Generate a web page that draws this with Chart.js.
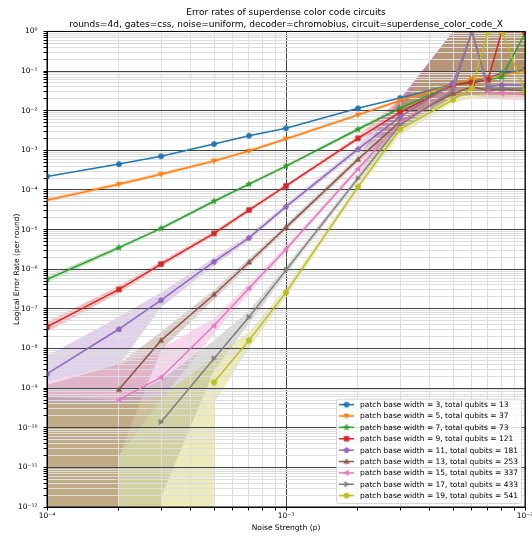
<!DOCTYPE html>
<html><head><meta charset="utf-8">
<script src="https://cdn.jsdelivr.net/npm/chart.js@4/dist/chart.umd.min.js"></script>
<style>html,body{margin:0;padding:0;background:#fff}#wrap{width:532px;height:539px}</style>
</head><body><div id="wrap"><canvas id="c" width="532" height="539"></canvas></div>
<script>
// ---------- data ----------
const noiseStrengths = [1e-4, 2e-4, 3e-4, 5e-4, 7e-4, 1e-3, 2e-3, 3e-3, 5e-3, 6e-3, 7e-3, 8e-3, 1e-2];
const patchBaseWidths = [3, 5, 7, 9, 11, 13, 15, 17, 19];
const totalQubits = [13, 37, 73, 121, 181, 253, 337, 433, 541];
const Z = 1e-300; // lower bound when no errors were seen

const rateW3 = [2.2e-4, 4.5e-4, 7.1e-4, 1.44e-3, 2.34e-3, 3.6e-3, 1.15e-2, 2.1e-2, 4.6e-2, 5.6e-2, 6.8e-2, 8.8e-2, 1.07e-1];
const lowW3  = [1.95e-4, 4.0e-4, 6.4e-4, 1.3e-3, 2.1e-3, 3.25e-3, 1.05e-2, 1.9e-2, 4.1e-2, 5.0e-2, 6.1e-2, 7.9e-2, 9.6e-2];
const highW3 = [2.5e-4, 5.1e-4, 7.9e-4, 1.6e-3, 2.6e-3, 4.0e-3, 1.27e-2, 2.3e-2, 5.1e-2, 6.2e-2, 7.5e-2, 9.8e-2, 1.19e-1];

const rateW5 = [5.5e-5, 1.4e-4, 2.5e-4, 5.4e-4, 9.6e-4, 1.94e-3, 7.8e-3, 1.8e-2, 4.5e-2, 6.3e-2, 6.6e-2, 8.0e-2, 1.0e-1];
const lowW5  = [4.8e-5, 1.25e-4, 2.25e-4, 4.9e-4, 8.7e-4, 1.76e-3, 7.1e-3, 1.63e-2, 4.0e-2, 5.6e-2, 5.9e-2, 7.1e-2, 8.9e-2];
const highW5 = [6.3e-5, 1.57e-4, 2.78e-4, 5.95e-4, 1.06e-3, 2.14e-3, 8.6e-3, 1.99e-2, 5.0e-2, 7.0e-2, 7.4e-2, 9.0e-2, 1.12e-1];

const rateW7 = [5.6e-7, 3.5e-6, 1.07e-5, 5.2e-5, 1.4e-4, 4.0e-4, 3.4e-3, 1.15e-2, 4.6e-2, 5.2e-2, 6.0e-2, 7.0e-2, 0.9];
const lowW7  = [4.7e-7, 3.1e-6, 9.6e-6, 4.7e-5, 1.27e-4, 3.6e-4, 3.05e-3, 1.0e-2, 3.8e-2, 4.2e-2, 4.8e-2, 5.5e-2, 0.1];
const highW7 = [6.6e-7, 3.9e-6, 1.19e-5, 5.8e-5, 1.55e-4, 4.4e-4, 3.8e-3, 1.3e-2, 5.6e-2, 6.4e-2, 7.5e-2, 1, 1];

const rateW9 = [3.5e-8, 3.1e-7, 1.35e-6, 8.0e-6, 3.1e-5, 1.26e-4, 2.0e-3, 9.1e-3, 4.5e-2, 5.0e-2, 6.0e-2, 1, 1];
const lowW9  = [2.6e-8, 2.5e-7, 1.15e-6, 7.0e-6, 2.75e-5, 1.12e-4, 1.75e-3, 6.5e-3, 2.5e-2, 2.5e-2, 3.0e-2, 0.1, 0.1];
const highW9 = [4.7e-8, 3.8e-7, 1.58e-6, 9.2e-6, 3.5e-5, 1.42e-4, 2.3e-3, 2.0e-2, 1, 1, 1, 1, 1];

const rateW11 = [2.3e-9, 3.1e-8, 1.66e-7, 1.55e-6, 6.2e-6, 3.8e-5, 1.07e-3, 7.0e-3, 4.9e-2, 1, 4.0e-2, 4.5e-2, 4.3e-2];
const lowW11  = [1.5e-9, 3.8e-9, 1.1e-7, 1.25e-6, 5.2e-6, 3.3e-5, 8.9e-4, 5.0e-3, 2.8e-2, 3.0e-2, 2.8e-2, 2.8e-2, 2.8e-2];
const highW11 = [6.5e-9, 6.3e-8, 2.6e-7, 1.95e-6, 7.4e-6, 4.4e-5, 1.29e-3, 2.0e-2, 1, 1, 1, 1, 1];

const rateW13 = [null, 9.2e-10, 1.6e-8, 2.3e-7, 1.5e-6, 1.14e-5, 5.9e-4, 5.3e-3, 2.7e-2, 4.0e-2, 3.3e-2, 3.5e-2, 3.2e-2];
const lowW13  = [Z, 2e-11, 9e-9, 1.75e-7, 1.2e-6, 9.5e-6, 4.9e-4, 3.8e-3, 2.2e-2, 2.5e-2, 2.5e-2, 2.5e-2, 2.5e-2];
const highW13 = [1.2e-9, 4e-9, 2.6e-8, 3.0e-7, 1.85e-6, 1.37e-5, 7.1e-4, 1.8e-2, 1, 1, 1, 1, 1];

const rateW15 = [null, 5.1e-10, 1.86e-9, 3.8e-8, 3.3e-7, 3.2e-6, 3.4e-4, 5.0e-3, 3.5e-2, 1, 3.0e-2, 2.7e-2, 2.6e-2];
const lowW15  = [Z, 2e-11, 5e-10, 2.4e-8, 2.5e-7, 2.7e-6, 2.85e-4, 3.5e-3, 2.5e-2, 2.5e-2, 2.1e-2, 1.9e-2, 1.8e-2];
const highW15 = [1.5e-9, 3.8e-9, 1.0e-8, 5.7e-8, 4.3e-7, 3.85e-6, 4.1e-4, 1.7e-2, 1, 1, 1, 1, 1];

const rateW17 = [null, null, 1.4e-10, 5.6e-9, 6.2e-8, 9.5e-7, 1.96e-4, 4.4e-3, 3.2e-2, 1, 3.7e-2, 3.7e-2, 3.7e-2];
const lowW17  = [Z, Z, 1.8e-12, 2.8e-9, 4.2e-8, 7.6e-7, 1.63e-4, 3.2e-3, 2.2e-2, 2.5e-2, 2.5e-2, 2.5e-2, 2.5e-2];
const highW17 = [6e-10, 5e-10, 1.6e-9, 1.6e-8, 9e-8, 1.19e-6, 2.35e-4, 1.6e-2, 1, 1, 1, 1, 1];

const rateW19 = [null, null, null, 1.4e-9, 1.6e-8, 2.6e-7, 1.2e-4, 3.4e-3, 1.9e-2, 3.7e-2, 1, 1, 3.0e-2];
const lowW19  = [Z, Z, Z, 4.2e-10, 1.0e-8, 2.0e-7, 1.0e-4, 2.4e-3, 1.6e-2, 2.0e-2, 2.2e-2, 2.2e-2, 2.2e-2];
const highW19 = [4e-10, 4e-10, 6e-10, 6e-9, 2.6e-8, 3.4e-7, 1.45e-4, 1.2e-2, 1, 1, 1, 1, 1];

const xTickExponents = [-4, -3, -2];
const yTickExponents = [-12, -11, -10, -9, -8, -7, -6, -5, -4, -3, -2, -1, 0];

const titleLines = ['Error rates of superdense color code circuits',
  'rounds=4d, gates=css, noise=uniform, decoder=chromobius, circuit=superdense_color_code_X'];
const xAxisTitle = 'Noise Strength (p)';
const yAxisTitle = 'Logical Error Rate (per round)';

// ---------- styles ----------
const rates = [rateW3, rateW5, rateW7, rateW9, rateW11, rateW13, rateW15, rateW17, rateW19];
const lows = [lowW3, lowW5, lowW7, lowW9, lowW11, lowW13, lowW15, lowW17, lowW19];
const highs = [highW3, highW5, highW7, highW9, highW11, highW13, highW15, highW17, highW19];
const colors = ['#1f77b4','#ff7f0e','#2ca02c','#d62728','#9467bd','#8c564b','#e377c2','#7f7f7f','#bcbd22'];
const markerShapes = ['circle','tdown','star','square','pentagon','tup','tleft','tright','octagon'];
const FONT = '"DejaVu Sans", sans-serif';

function rgba(hex, a){ const n=parseInt(hex.slice(1),16); return `rgba(${n>>16&255},${n>>8&255},${n&255},${a})`; }
function poly(ctx, cx, cy, r, n, rot){ ctx.beginPath(); for(let k=0;k<n;k++){ const a=rot+k*2*Math.PI/n; const px=cx+r*Math.cos(a), py=cy+r*Math.sin(a); k?ctx.lineTo(px,py):ctx.moveTo(px,py);} ctx.closePath(); }
function makeMarker(shape, color){
  const s=10, c=document.createElement('canvas'); c.width=s; c.height=s;
  const g=c.getContext('2d'); const cx=5, cy=5; g.fillStyle=color; g.strokeStyle=color; g.lineWidth=0.6;
  if(shape==='circle'){ g.beginPath(); g.arc(cx,cy,2.6,0,2*Math.PI); }
  else if(shape==='square'){ g.beginPath(); g.rect(cx-2.4,cy-2.4,4.8,4.8); }
  else if(shape==='tdown') poly(g,cx,cy-0.4,3.1,3,Math.PI/2);
  else if(shape==='tup') poly(g,cx,cy+0.4,3.1,3,-Math.PI/2);
  else if(shape==='tleft') poly(g,cx+0.4,cy,3.1,3,Math.PI);
  else if(shape==='tright') poly(g,cx-0.4,cy,3.1,3,0);
  else if(shape==='pentagon') poly(g,cx,cy+0.2,2.9,5,-Math.PI/2);
  else if(shape==='octagon') poly(g,cx,cy,2.9,8,Math.PI/8);
  else if(shape==='star'){ g.beginPath(); for(let k=0;k<10;k++){ const r=k%2?1.3:3.3; const a=-Math.PI/2+k*Math.PI/5; const px=cx+r*Math.cos(a), py=cy+r*Math.sin(a); k?g.lineTo(px,py):g.moveTo(px,py);} g.closePath(); }
  g.fill(); g.stroke(); return c;
}
const markers = markerShapes.map((m,i)=>makeMarker(m, colors[i]));

function sup(n){ const m={'0':'⁰','1':'¹','2':'²','3':'³','4':'⁴','5':'⁵','6':'⁶','7':'⁷','8':'⁸','9':'⁹','-':'⁻'}; return String(n).split('').map(ch=>m[ch]).join(''); }
function logTicks(exps){ const t=[]; for(let k=0;k<exps.length-1;k++){ for(let m=1;m<10;m++) t.push({value:m*Math.pow(10,exps[k]), major:m===1}); } t.push({value:Math.pow(10,exps[exps.length-1]), major:true}); return t; }
const pts = arr => noiseStrengths.map((p,j)=>({x:p, y:arr[j]}));

const datasets = [];
rates.forEach((r,i)=>{
  datasets.push({label:'', isBand:true, data:pts(highs[i]), borderWidth:0, borderColor:'rgba(0,0,0,0)', pointRadius:0, fill:false, order:300-i});
  datasets.push({label:'', isBand:true, data:pts(lows[i]), borderWidth:0, borderColor:'rgba(0,0,0,0)', pointRadius:0, fill:'-1', backgroundColor:rgba(colors[i],0.3), order:300-i});
});
rates.forEach((r,i)=>{
  datasets.push({label:`patch base width = ${patchBaseWidths[i]}, total qubits = ${totalQubits[i]}`, seriesIndex:i,
    data:pts(r), borderColor:colors[i], backgroundColor:colors[i], borderWidth:1.5, pointStyle:markers[i], pointRadius:3, fill:false, tension:0, order:100-i});
});

const framePlugin = { id:'frame', afterDatasetsDraw(chart){ const {ctx, chartArea:a}=chart; ctx.save(); ctx.strokeStyle='#000'; ctx.lineWidth=1; ctx.strokeRect(a.left, a.top, a.right-a.left, a.bottom-a.top); ctx.restore(); } };

const legendPlugin = { id:'boxLegend', afterDraw(chart){
  const {ctx, chartArea:a} = chart; const fs=7.5; ctx.save(); ctx.font=`${fs}px ${FONT}`;
  const items = chart.data.datasets.filter(d=>!d.isBand);
  const tw = Math.max(...items.map(d=>ctx.measureText(d.label).width));
  const step=11.375, pad=3, handle=15, gap=6;
  const w = pad+handle+gap+tw+pad, h = items.length*step+2;
  const right=a.right-4, bottom=a.bottom-4, left=right-w, top=bottom-h;
  ctx.fillStyle='rgba(255,255,255,0.8)'; ctx.strokeStyle='rgba(204,204,204,0.8)'; ctx.lineWidth=1;
  ctx.beginPath(); if(ctx.roundRect) ctx.roundRect(left+0.5, top+0.5, w, h, 2); else ctx.rect(left+0.5, top+0.5, w, h); ctx.fill(); ctx.stroke();
  items.forEach((d,k)=>{ const cy=top+6+k*step; const hx=left+pad;
    ctx.strokeStyle=d.borderColor; ctx.lineWidth=1.5; ctx.beginPath(); ctx.moveTo(hx,cy); ctx.lineTo(hx+handle,cy); ctx.stroke();
    const m=d.pointStyle; ctx.drawImage(m, hx+handle/2-m.width/2, cy-m.height/2);
    ctx.fillStyle='#000'; ctx.textBaseline='middle'; ctx.textAlign='left'; ctx.fillText(d.label, hx+handle+gap, cy+0.5); });
  ctx.restore(); } };

const gridColor = c => (c.tick && c.tick.major) ? '#444444' : '#dddddd';
const tickLabel = (v,i,t) => (t[i] && t[i].major) ? '10'+sup(Math.round(Math.log10(v))) : '';

new Chart(document.getElementById('c'), {
  type:'line',
  data:{datasets},
  options:{
    responsive:false, animation:false, devicePixelRatio:1, events:[],
    layout:{padding:{left:0, right:7, top:0, bottom:0}},
    plugins:{
      legend:{display:false}, tooltip:{enabled:false},
      filler:{drawTime:'beforeDraw'},
      title:{display:true, fullSize:false, text:titleLines, color:'#000', font:{family:FONT, size:9, weight:'normal', lineHeight:1.33}, padding:{top:6.5, bottom:1}},
    },
    scales:{
      x:{type:'logarithmic', position:'bottom', min:1e-4, max:1e-2,
        afterBuildTicks:s=>{ s.ticks=logTicks(xTickExponents); },
        afterFit:s=>{ s.height=32; s.paddingLeft=0; s.paddingRight=0; },
        grid:{color:gridColor, lineWidth:1, tickColor:'#000', tickLength:3.5, drawTicks:true},
        border:{display:true, color:'#000', width:1},
        ticks:{autoSkip:false, maxRotation:0, minRotation:0, padding:1, color:'#000', font:{family:FONT, size:7.5}, callback:tickLabel},
        title:{display:true, text:xAxisTitle, color:'#000', font:{family:FONT, size:7.5, lineHeight:1.2}, padding:{top:0, bottom:6.5}}
      },
      y:{type:'logarithmic', position:'left', min:1e-12, max:1,
        afterBuildTicks:s=>{ s.ticks=logTicks(yTickExponents); },
        afterFit:s=>{ s.width=47; s.paddingTop=0; s.paddingBottom=0; },
        grid:{color:gridColor, lineWidth:1, tickColor:'#000', tickLength:3.5, drawTicks:true},
        border:{display:true, color:'#000', width:1},
        ticks:{autoSkip:false, padding:6, color:'#000', font:{family:FONT, size:7.5}, callback:tickLabel},
        title:{display:true, text:yAxisTitle, color:'#000', font:{family:FONT, size:7.5, lineHeight:1.2}, padding:{top:12.5, bottom:0}}
      }
    }
  },
  plugins:[framePlugin, legendPlugin]
});
</script></body></html>
